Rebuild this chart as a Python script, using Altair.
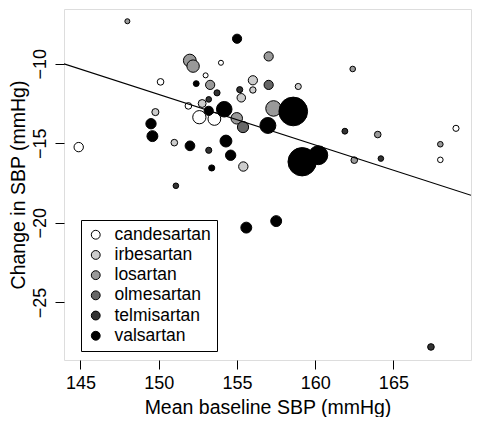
import altair as alt
import pandas as pd

FONT = "Liberation Sans"

drugs = ["candesartan", "irbesartan", "losartan", "olmesartan", "telmisartan", "valsartan"]
fills = ["#FFFFFF", "#CCCCCC", "#999999", "#666666", "#333333", "#000000"]

# candesartan
cand_x = [144.89, 150.12, 151.9, 152.6, 153.56, 153.0, 153.98, 169.0, 168.0]
cand_y = [-15.24, -11.14, -12.65, -13.36, -13.47, -10.73, -9.94, -14.06, -16.04]
cand_w = [28, 14, 14, 56, 52, 8, 8, 12, 10]

# irbesartan
irb_x = [149.79, 151.0, 152.78, 155.28, 156.02, 156.02, 155.41, 158.92]
irb_y = [-13.04, -14.96, -12.5, -12.14, -11.04, -11.65, -16.46, -11.43]
irb_w = [16, 14, 20, 23, 27, 13, 28, 12]

# losartan
los_x = [148.0, 151.99, 152.2, 153.29, 154.99, 157.03, 157.34, 162.4, 164.0, 162.5, 168.0]
los_y = [-7.33, -9.80, -10.15, -11.33, -13.43, -9.54, -12.81, -10.33, -14.45, -16.06, -15.06]
los_w = [8, 52, 49, 27, 42, 27, 77, 10, 14, 14, 10]

# olmesartan
olm_x = [155.39, 157.03]
olm_y = [-13.98, -11.33]
olm_w = [40, 27]

# telmisartan
tel_x = [153.73, 153.2, 155.18, 153.2, 151.1, 161.9, 164.2, 167.4]
tel_y = [-11.83, -12.24, -11.63, -15.44, -17.67, -14.24, -15.96, -27.8]
tel_w = [12, 10, 12, 12, 10, 11, 10, 14]

# valsartan
val_x = [155.01, 152.4, 153.2, 154.19, 149.51, 149.6, 152.0, 154.3, 154.6, 153.39,
         156.98, 158.6, 159.17, 160.2, 155.6, 157.51]
val_y = [-8.43, -11.25, -12.96, -12.86, -13.77, -14.55, -15.16, -14.86, -15.75, -16.55,
         -13.88, -13.0, -16.16, -15.75, -20.3, -19.89]
val_w = [27, 11, 27, 77, 34, 38, 30, 45, 34, 12, 81, 262, 256, 114, 38, 38]

series = [
    ("candesartan", cand_x, cand_y, cand_w),
    ("irbesartan", irb_x, irb_y, irb_w),
    ("losartan", los_x, los_y, los_w),
    ("olmesartan", olm_x, olm_y, olm_w),
    ("telmisartan", tel_x, tel_y, tel_w),
    ("valsartan", val_x, val_y, val_w),
]

rows = []
for name, xs, ys, ws in series:
    for xv, yv, wv in zip(xs, ys, ws):
        rows.append({"drug": name, "sbp": xv, "change": yv, "w": wv})
df = pd.DataFrame(rows)

# regression line (intercept, slope)
reg_intercept = 35.73
reg_slope = -0.3177
x_domain = [143.95, 169.96]
y_domain = [-28.62, -6.56]
df_line = pd.DataFrame({
    "sbp": x_domain,
    "change": [reg_intercept + reg_slope * v for v in x_domain],
})

x_ticks = [145, 150, 155, 160, 165]
y_ticks = [-10, -15, -20, -25]

W, H = 407, 351

xscale = alt.Scale(domain=x_domain, nice=False, zero=False)
yscale = alt.Scale(domain=y_domain, nice=False, zero=False)

xaxis = alt.Axis(
    values=x_ticks, title="Mean baseline SBP (mmHg)", grid=False, domain=False,
    tickSize=9, tickColor="black", tickWidth=1,
    labelFont=FONT, labelFontSize=18, labelColor="black", labelPadding=5,
    titleFont=FONT, titleFontSize=19.5, titleFontWeight="normal", titleColor="black",
    titleX=W / 2, titleY=53, titleAlign="center", titleBaseline="alphabetic",
)
yaxis = alt.Axis(
    values=y_ticks, title="Change in SBP (mmHg)", grid=False, domain=False,
    tickSize=9, tickColor="black", tickWidth=1,
    labelFont=FONT, labelFontSize=18, labelColor="black", labelPadding=10,
    labelAngle=270, labelAlign="center", labelBaseline="alphabetic",
    labelExpr="replace(datum.label, '-', '\u2212')",
    titleFont=FONT, titleFontSize=19.5, titleFontWeight="normal", titleColor="black",
    titleX=-40, titleY=H / 2, titleAngle=270, titleAlign="center", titleBaseline="alphabetic",
)

points = alt.Chart(df).mark_circle(stroke="black", strokeWidth=1, opacity=1).encode(
    x=alt.X("sbp:Q", scale=xscale, axis=xaxis),
    y=alt.Y("change:Q", scale=yscale, axis=yaxis),
    fill=alt.Fill(
        "drug:N",
        scale=alt.Scale(domain=drugs, range=fills),
        legend=alt.Legend(
            title=None, orient="none", legendX=17, legendY=211,
            strokeColor="black", fillColor="white", padding=6, cornerRadius=0,
            labelFont=FONT, labelFontSize=17.5, labelColor="black", labelOffset=10,
            symbolType="circle", symbolSize=78.5, symbolStrokeColor="black",
            symbolStrokeWidth=1, symbolOpacity=1, rowPadding=1.2,
        ),
    ),
    size=alt.Size("w:Q", scale=alt.Scale(domain=[0, 100], range=[0, 314.16]), legend=None),
)

line = alt.Chart(df_line).mark_line(color="black", strokeWidth=1.2, clip=True).encode(
    x=alt.X("sbp:Q", scale=xscale),
    y=alt.Y("change:Q", scale=yscale),
)

chart = alt.layer(points, line).properties(
    width=W, height=H,
    autosize=alt.AutoSizeParams(type="none"),
    padding={"left": 56, "top": 1, "right": 1, "bottom": 57},
).configure_view(stroke="black", strokeWidth=1).configure(background="white")

chart.save("out.html", embed_options={"renderer": "svg", "actions": False})
